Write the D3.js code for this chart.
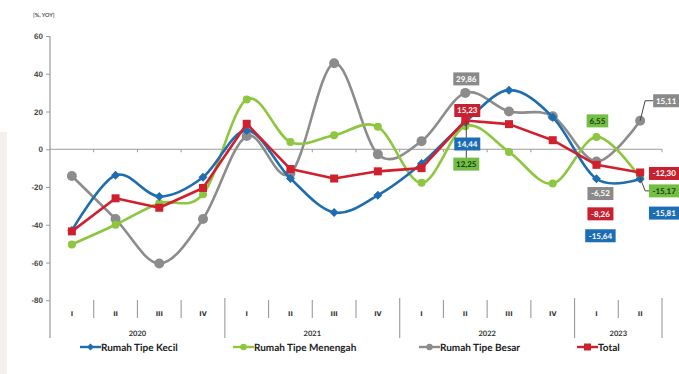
<!DOCTYPE html>
<html>
<head>
<meta charset="utf-8">
<script src="https://cdn.jsdelivr.net/npm/d3@7/dist/d3.min.js"></script>
<style>
  html, body { margin: 0; padding: 0; background: #ffffff; }
  svg { display: block; font-family: Lato, "Open Sans", "Liberation Sans", sans-serif; text-rendering: geometricPrecision; -webkit-font-smoothing: antialiased; }
</style>
</head>
<body>
<svg id="chart" width="679" height="374"></svg>
<script>
// Quarterly growth of residential property prices (%, YoY)
const years = ["2020", "2021", "2022", "2023"];
const quarters = ["I", "II", "III", "IV", "I", "II", "III", "IV", "I", "II", "III", "IV", "I", "II"];
const quarterYear = [0, 0, 0, 0, 1, 1, 1, 1, 2, 2, 2, 2, 3, 3];
const yTicks = [60, 40, 20, 0, -20, -40, -60, -80];

const kecil    = [-43, -13.8, -25, -14.8, 10, -15.5, -33.5, -24.4, -7.6, 14.44, 31.3, 17, -15.64, -15.81];
const menengah = [-50.4, -40, -28.6, -23.8, 26.4, 3.8, 7.4, 11.9, -17.8, 12.25, -1.4, -18.2, 6.55, -15.17];
const besar    = [-14.2, -37, -60.5, -37, 7, -12.9, 45.6, -2.7, 4.3, 29.86, 20, 17.5, -6.52, 15.11];
const total    = [-43.5, -26, -31, -20.5, 13.5, -10.5, -15.5, -11.7, -10, 15.23, 13.3, 4.8, -8.26, -12.30];

const seriesNames = ["Rumah Tipe Kecil", "Rumah Tipe Menengah", "Rumah Tipe Besar", "Total"];

// Indonesian-style number format: comma decimals, plain hyphen minus
const locale = d3.formatLocale({ decimal: ",", thousands: ".", grouping: [3], currency: ["Rp", ""], minus: "-" });

const svg = d3.select("#chart");

// faint panel strip on the left edge
svg.append("rect").attr("x", 0).attr("y", 132).attr("width", 7).attr("height", 242).attr("fill", "#f4f1ec");

const x = d3.scaleBand().domain(d3.range(quarters.length)).range([50, 662]).padding(0);
const y = d3.scaleLinear().domain([-100, 60]).range([338, 36]);
const cx = i => x(i) + x.bandwidth() / 2;

// unit caption
svg.append("text").attr("x", 33).attr("y", 17).attr("font-size", 5.5).attr("font-weight", 700)
  .attr("fill", "#555").text("[%, YOY]");

// value axis
const yAxis = d3.axisLeft(y).tickValues(yTicks).tickSize(4).tickPadding(3)
  .tickFormat(locale.format(".0f"));
const gy = svg.append("g").attr("transform", "translate(50,0)").call(yAxis);
gy.select(".domain").attr("d", `M0,${y(60)}V${y(-100)}`).attr("stroke", "#9a9a9a").attr("stroke-width", 1.2);
gy.selectAll(".tick line").attr("stroke", "#9a9a9a");
gy.selectAll(".tick text").attr("font-size", 8).attr("font-weight", 700).attr("fill", "#4a4a4a");

// zero line with quarter ticks
svg.append("line").attr("x1", 50).attr("x2", 662).attr("y1", y(0)).attr("y2", y(0))
  .attr("stroke", "#9a9a9a").attr("stroke-width", 1.2);
svg.append("g").selectAll("line").data(d3.range(1, quarters.length + 1)).join("line")
  .attr("x1", i => x(i - 1) + x.bandwidth()).attr("x2", i => x(i - 1) + x.bandwidth())
  .attr("y1", y(0)).attr("y2", y(0) + 3).attr("stroke", "#9a9a9a");

// category axis: quarters and years
const catY = 313;
svg.append("g").selectAll("text").data(quarters).join("text")
  .attr("x", (d, i) => cx(i)).attr("y", catY + 3).attr("text-anchor", "middle")
  .attr("font-family", "'DejaVu Sans', sans-serif")
  .attr("font-size", 6.5).attr("font-weight", 700).attr("fill", "#333")
  .text(d => d);
const seps = d3.range(1, quarters.length + 1);
const isYearEdge = i => i === quarters.length || quarterYear[i] !== quarterYear[i - 1];
svg.append("g").selectAll("line").data(seps).join("line")
  .attr("x1", i => x(i - 1) + x.bandwidth()).attr("x2", i => x(i - 1) + x.bandwidth())
  .attr("y1", i => isYearEdge(i) ? 298 : 300)
  .attr("y2", i => isYearEdge(i) ? 338 : 318)
  .attr("stroke", "#9a9a9a").attr("stroke-width", 1.1);
svg.append("g").selectAll("text").data(years).join("text")
  .attr("x", (d, k) => {
    const idx = quarterYear.map((q, i) => q === k ? i : -1).filter(i => i >= 0);
    return (x(idx[0]) + x(idx[idx.length - 1]) + x.bandwidth()) / 2;
  })
  .attr("y", 336).attr("text-anchor", "middle").attr("font-size", 7.5).attr("font-weight", 700)
  .attr("fill", "#333").text(d => d);

// series
const smooth = d3.line().x((d, i) => cx(i)).y(d => y(d)).curve(d3.curveCatmullRom.alpha(0));
const straight = d3.line().x((d, i) => cx(i)).y(d => y(d));

const series = [
  { name: seriesNames[2], values: besar,    color: "#8c8c8c", line: smooth,   marker: "circle", size: 5 },
  { name: seriesNames[1], values: menengah, color: "#8dc63f", line: smooth,   marker: "circle", size: 4 },
  { name: seriesNames[0], values: kecil,    color: "#1f6db1", line: smooth,   marker: "diamond", size: 4.5 },
  { name: seriesNames[3], values: total,    color: "#d0202e", line: straight, marker: "square", size: 4 }
];

function drawMarker(g, type, size, color) {
  if (type === "circle") {
    g.append("circle").attr("r", size).attr("fill", color);
  } else if (type === "diamond") {
    g.append("path").attr("d", `M0,${-size}L${size},0L0,${size}L${-size},0Z`).attr("fill", color);
  } else {
    g.append("rect").attr("x", -size).attr("y", -size).attr("width", 2 * size).attr("height", 2 * size).attr("fill", color);
  }
}

series.forEach(s => {
  svg.append("path").attr("d", s.line(s.values)).attr("fill", "none")
    .attr("stroke", s.color).attr("stroke-width", 2.6).attr("stroke-linejoin", "round");
  s.values.forEach((v, i) => {
    const g = svg.append("g").attr("transform", `translate(${cx(i)},${y(v)})`);
    drawMarker(g, s.marker, s.size, s.color);
  });
});

// value labels
const fmt = locale.format(".2f");
const labelStyle = {
  kecil:    { fill: "#1c6db3", text: "#ffffff", values: kecil },
  menengah: { fill: "#72bf44", text: "#1d3a10", values: menengah },
  besar:    { fill: "#8a8a8a", text: "#ffffff", values: besar },
  total:    { fill: "#c9202f", text: "#ffffff", values: total }
};
const labels = [
  { s: "besar",    i: 9,  dx: 1,  dy: -14 },
  { s: "total",    i: 9,  dx: 2,  dy: -10 },
  { s: "kecil",    i: 9,  dx: 2,  dy: 22 },
  { s: "menengah", i: 9,  dx: 1,  dy: 38, leader: true },
  { s: "menengah", i: 12, dx: 1,  dy: -16 },
  { s: "besar",    i: 12, dx: 4,  dy: 32 },
  { s: "total",    i: 12, dx: 4,  dy: 49 },
  { s: "kecil",    i: 12, dx: 4,  dy: 57 },
  { s: "besar",    i: 13, dx: 26, dy: -20, leader: true },
  { s: "total",    i: 13, dx: 24, dy: 1 },
  { s: "menengah", i: 13, dx: 24, dy: 13, leader: true },
  { s: "kecil",    i: 13, dx: 24, dy: 34 }
];

labels.filter(l => l.leader).forEach(l => {
  const st = labelStyle[l.s];
  const px = cx(l.i), py = y(st.values[l.i]);
  const bx = px + l.dx, by = py + l.dy;
  let d;
  if (l.i === 9) d = `M${px + 1},${y(total[9])}V${by - 6}`;
  else d = `M${px},${py}L${px + 5},${by}H${bx - 13}`;
  svg.append("path").attr("d", d).attr("fill", "none").attr("stroke", "#444").attr("stroke-width", 1);
});

labels.forEach(l => {
  const st = labelStyle[l.s];
  const v = st.values[l.i];
  const bx = cx(l.i) + l.dx, by = y(v) + l.dy;
  const txt = fmt(v);
  const w = txt.length * 4.4 + 4, h = 13;
  const g = svg.append("g").attr("transform", `translate(${bx},${by})`);
  g.append("rect").attr("x", -w / 2).attr("y", -h / 2).attr("width", w).attr("height", h).attr("fill", st.fill);
  g.append("text").attr("text-anchor", "middle").attr("dy", "0.35em").attr("font-size", 8)
    .attr("font-weight", 700).attr("fill", st.text).text(txt);
});

// legend
const legend = [
  { name: seriesNames[0], color: "#1f6db1", marker: "diamond", size: 3.5, x: 80 },
  { name: seriesNames[1], color: "#8dc63f", marker: "circle", size: 3.2, x: 233 },
  { name: seriesNames[2], color: "#8c8c8c", marker: "circle", size: 3.2, x: 419 },
  { name: seriesNames[3], color: "#d0202e", marker: "square", size: 3.5, x: 577 }
];
legend.forEach(l => {
  const g = svg.append("g").attr("transform", `translate(${l.x},347)`);
  g.append("line").attr("x1", 0).attr("x2", 21).attr("stroke", l.color).attr("stroke-width", 2.4);
  const m = g.append("g").attr("transform", "translate(10.5,0)");
  drawMarker(m, l.marker, l.size, l.color);
  g.append("text").attr("x", 21).attr("dy", "0.35em").attr("font-size", 10).attr("font-weight", 700)
    .attr("fill", "#222").text(l.name);
});
</script>
</body>
</html>
